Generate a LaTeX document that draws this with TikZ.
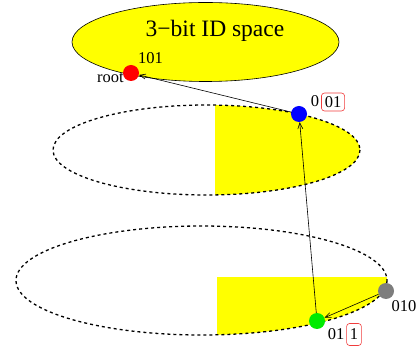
\documentclass[tikz,border=0pt]{standalone}
\usepackage{fontspec}
\setmainfont{Liberation Serif}
\usepackage{tikz}
\usetikzlibrary{arrows.meta, positioning, shapes.geometric}
\definecolor{idyellow}{RGB}{255,255,0}
\definecolor{rootred}{RGB}{255,0,0}
\definecolor{hopblue}{RGB}{0,0,255}
\definecolor{hopgreen}{RGB}{0,235,0}
\definecolor{hopgray}{RGB}{125,125,125}
\definecolor{boxred}{RGB}{240,60,60}

\begin{document}
\begin{tikzpicture}[x=1pt, y=-1pt,
  dot/.style={circle, inner sep=0pt, minimum size=16pt},
  ring/.style={dash pattern=on 3pt off 3pt, line width=1.3pt},
  bitbox/.style={draw=boxred, rounded corners=3pt, inner xsep=3.3pt, inner ysep=0pt, line width=0.6pt},
  link/.style={-{Straight Barb[length=6pt, width=5pt]}, line width=0.6pt},
  lbl/.style={font=\fontsize{16.5}{18}\selectfont, inner sep=0pt}]
  \useasboundingbox (0,0) rectangle (420,352);
  % whole ID space
  \node[ellipse, draw, fill=idyellow, line width=0.6pt, inner sep=0pt,
        minimum width=267pt, minimum height=79pt] (space) at (205.5,42) {};
  \node[font=\fontsize{23.5}{26}\selectfont, inner sep=0pt] (title) at (215,31) {3−bit ID space};
  % level 1: half of the space
  \begin{scope}
    \clip (215,0) rectangle (420,352);
    \fill[idyellow] (206.5,150) ellipse [x radius=153.5, y radius=45];
  \end{scope}
  \draw[ring] (206.5,150) ellipse [x radius=153.5, y radius=45];
  % level 2: quarter of the space
  \begin{scope}
    \clip (217,278) rectangle (420,352);
    \fill[idyellow] (201.5,280.5) ellipse [x radius=185.5, y radius=54.5];
  \end{scope}
  \draw[ring] (201.5,280.5) ellipse [x radius=185.5, y radius=54.5];
  % nodes
  \node[dot, fill=rootred] (root) at (131,73) {};
  \node[dot, fill=hopblue] (hopa) at (299,114) {};
  \node[dot, fill=hopgreen] (hopb) at (317,321) {};
  \node[dot, fill=hopgray] (start) at (386,291) {};
  % routing
  \draw[link] (hopa) -- (root);
  \draw[link] (hopb) -- (hopa);
  \draw[link] (start) -- (hopb);
  % labels
  \node[lbl] (rootid) at (150.5,58) {101};
  \node[lbl, anchor=east] (rootname) at (124,78) {root};
  \node[lbl] (hopaid) at (315,101) {0};
  \node[lbl, bitbox, minimum height=18pt] (hopabits) at (333,102) {01};
  \node[lbl] (startid) at (404,306) {010};
  \node[lbl] (hopbid) at (336,334) {01};
  \node[lbl, bitbox, minimum height=22pt] (hopbbits) at (354,334.5) {1};
\end{tikzpicture}
\end{document}
